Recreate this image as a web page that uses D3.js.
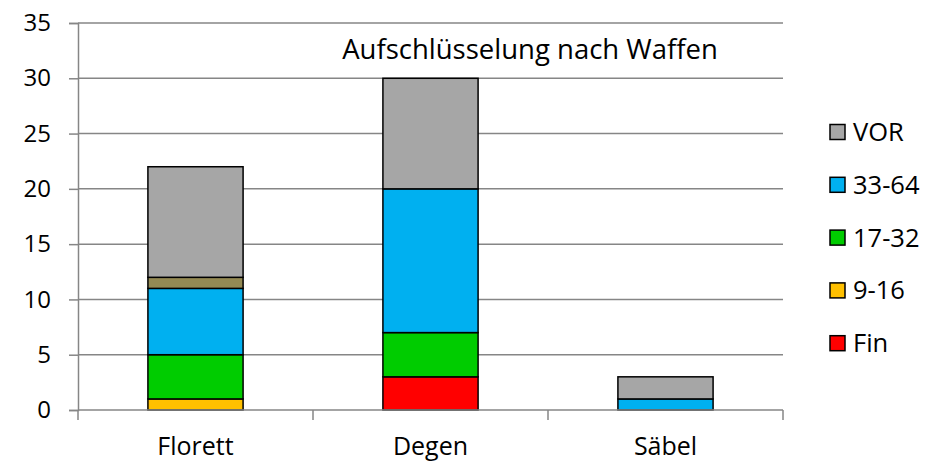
<!DOCTYPE html>
<html>
<head>
<meta charset="utf-8">
<script src="https://cdn.jsdelivr.net/npm/d3@7"></script>
<style>
  body { margin: 0; background: #fff; }
  text { font-family: "Open Sans", sans-serif; fill: #000; }
</style>
</head>
<body>
<svg id="chart" width="928" height="463"></svg>
<script>
// categories and series (stack order bottom -> top)
var categories = ["Florett", "Degen", "Säbel"];
var fin    = [0, 3, 0];
var r9_16  = [1, 0, 0];
var r17_32 = [4, 4, 0];
var r33_64 = [6, 13, 1];
var other  = [1, 0, 0];   // olive segment, no legend entry
var vor    = [10, 10, 2];
var yTicks = [0, 5, 10, 15, 20, 25, 30, 35];

var seriesNames = ["Fin", "9-16", "17-32", "33-64", "other", "VOR"];
var seriesValues = [fin, r9_16, r17_32, r33_64, other, vor];
var colors = ["#FF0000", "#FFC000", "#00CC00", "#00B0F0", "#948A54", "#A6A6A6"];
var legendNames = ["VOR", "33-64", "17-32", "9-16", "Fin"];

// build rows for d3.stack
var rows = categories.map(function(c, i) {
  var r = { cat: c };
  seriesNames.forEach(function(s, j) { r[s] = seriesValues[j][i]; });
  return r;
});
var stacked = d3.stack().keys(seriesNames)(rows);

var svg = d3.select("#chart");
var plotLeft = 78, plotRight = 783, plotTop = 23, plotBottom = 410;

var x = d3.scaleBand()
  .domain(categories)
  .range([plotLeft, plotRight])
  .paddingInner(0.595)
  .paddingOuter(0.2975);
var y = d3.scaleLinear().domain([0, 35]).range([plotBottom, plotTop]);

// -- gridlines
svg.append("g")
  .selectAll("line")
  .data(yTicks.slice(1))
  .enter()
  .append("line")
  .attr("x1", plotLeft).attr("x2", plotRight)
  .attr("y1", function(d) { return y(d); })
  .attr("y2", function(d) { return y(d); })
  .attr("stroke", "#868686")
  .attr("stroke-width", 1.5);

// -- bars
svg.append("g")
  .selectAll("g")
  .data(stacked)
  .enter()
  .append("g")
  .attr("fill", function(d, i) { return colors[i]; })
  .selectAll("rect")
  .data(function(d) { return d.filter(function(p) { return p[1] > p[0]; }); })
  .enter()
  .append("rect")
  .attr("x", function(p) { return x(p.data.cat); })
  .attr("y", function(p) { return y(p[1]); })
  .attr("width", x.bandwidth())
  .attr("height", function(p) { return y(p[0]) - y(p[1]); })
  .attr("stroke", "#000")
  .attr("stroke-width", 1.5);

// -- y axis
var yAxis = svg.append("g")
  .attr("transform", "translate(" + plotLeft + ",0)")
  .call(d3.axisLeft(y).tickValues(yTicks).tickSize(9).tickPadding(18));
yAxis.select(".domain").attr("stroke", "#868686").attr("stroke-width", 1.5);
yAxis.selectAll(".tick line").attr("stroke", "#868686").attr("stroke-width", 1.5);
yAxis.selectAll("text")
  .style("font-family", "Open Sans")
  .style("font-size", "24px")
  .attr("fill", "#000");

// -- x axis (ticks on category boundaries)
var bounds = [plotLeft].concat(categories.map(function(c) { return x(c) + x.bandwidth() + x.step() * x.paddingInner() / 2; }));
var xg = svg.append("g");
xg.append("line")
  .attr("x1", plotLeft).attr("x2", plotRight)
  .attr("y1", plotBottom).attr("y2", plotBottom)
  .attr("stroke", "#868686").attr("stroke-width", 1.5);
xg.selectAll(".bt")
  .data(bounds)
  .enter()
  .append("line")
  .attr("x1", function(d) { return d; })
  .attr("x2", function(d) { return d; })
  .attr("y1", plotBottom).attr("y2", plotBottom + 10)
  .attr("stroke", "#868686").attr("stroke-width", 1.5);
xg.selectAll("text")
  .data(categories)
  .enter()
  .append("text")
  .attr("x", function(c) { return x(c) + x.bandwidth() / 2; })
  .attr("y", 455)
  .attr("text-anchor", "middle")
  .style("font-size", "25px")
  .text(function(c) { return c; });

// -- title
svg.append("text")
  .attr("x", 530)
  .attr("y", 59)
  .attr("text-anchor", "middle")
  .style("font-size", "27.5px")
  .text("Aufschlüsselung nach Waffen");

// -- legend
var legend = svg.append("g")
  .selectAll("g")
  .data(legendNames)
  .enter()
  .append("g")
  .attr("transform", function(d, i) { return "translate(830," + (132 + i * 52.8) + ")"; });
legend.append("rect")
  .attr("x", 0).attr("y", -7.5)
  .attr("width", 15).attr("height", 15)
  .attr("fill", function(d) { return colors[seriesNames.indexOf(d)]; })
  .attr("stroke", "#000")
  .attr("stroke-width", 1.5);
legend.append("text")
  .attr("x", 23)
  .attr("y", 9)
  .style("font-size", "25.5px")
  .text(function(d) { return d; });
</script>
</body>
</html>
